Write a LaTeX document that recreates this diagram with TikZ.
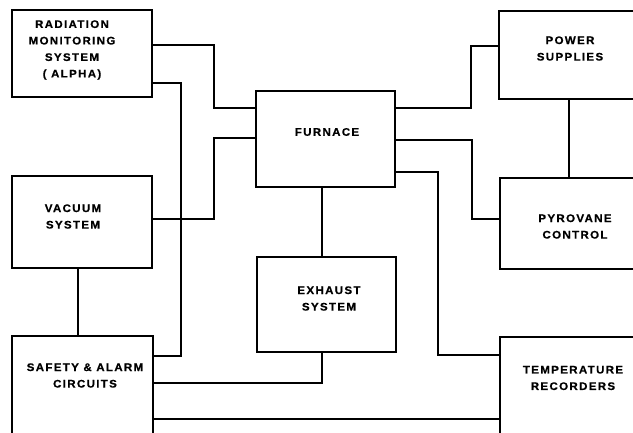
\documentclass[tikz,border=0pt]{standalone}
\usepackage{fontspec}
\setmainfont{Liberation Sans}
\newfontfamily\lblfont[LetterSpace=12,FakeStretch=1.05,FakeBold=0.6]{Liberation Sans Bold}
\begin{document}
\begin{tikzpicture}[x=1pt,y=-1pt,
  box/.style={draw,line width=1.7pt,inner sep=0pt},
  lbl/.style={align=center,inner sep=0pt,font=\lblfont\fontsize{11}{16.5}\selectfont},
  wire/.style={line width=1.5pt}]
\useasboundingbox (0,0) rectangle (633,432);
\clip (0,0) rectangle (633,432);
\node[box,minimum width=140pt,minimum height=87pt] (rad) at (82,53.5) {};
\node[box,minimum width=140pt,minimum height=92pt] (vac) at (82,222) {};
\node[box,minimum width=141pt,minimum height=124pt] (saf) at (82.5,398) {};
\node[box,minimum width=139pt,minimum height=96pt] (furn) at (325.5,139) {};
\node[box,minimum width=139pt,minimum height=95pt] (exh) at (326.5,304.5) {};
\node[box,minimum width=161pt,minimum height=88pt] (pow) at (579.5,55) {};
\node[box,minimum width=160pt,minimum height=91pt] (pyr) at (580,223.5) {};
\node[box,minimum width=160pt,minimum height=123pt] (temp) at (580,398.5) {};

\node[lbl] (radt) at (72,50) {RADIATION\\MONITORING\\SYSTEM\\( ALPHA)};
\node[lbl] (vact) at (73,216.5) {VACUUM\\SYSTEM};
\node[lbl] (saft) at (85,375.5) {SAFETY \& ALARM\\CIRCUITS};
\node[lbl] (furnt) at (327,132) {FURNACE};
\node[lbl] (exht) at (329,298.5) {EXHAUST\\SYSTEM};
\node[lbl] (powt) at (570,48.5) {POWER\\SUPPLIES};
\node[lbl] (pyrt) at (575,226.5) {PYROVANE\\CONTROL};
\node[lbl] (tempt) at (573,378) {TEMPERATURE\\RECORDERS};

\draw[wire] (rad.east |- 0,45) -| (214,108) -- (furn.west |- 0,108);
\draw[wire] (rad.east |- 0,83) -| (181,356) -- (saf.east |- 0,356);
\draw[wire] (vac.east |- 0,219) -| (214,138) -- (furn.west |- 0,138);
\draw[wire] (vac.south -| 78,0) -- (saf.north -| 78,0);
\draw[wire] (furn.east |- 0,108) -| (471,46) -- (pow.west |- 0,46);
\draw[wire] (furn.east |- 0,140) -| (472,219) -- (pyr.west |- 0,219);
\draw[wire] (furn.east |- 0,172) -| (438,355) -- (temp.west |- 0,355);
\draw[wire] (pow.south -| 569,0) -- (pyr.north -| 569,0);
\draw[wire] (furn.south -| 322,0) -- (exh.north -| 322,0);
\draw[wire] (exh.south -| 322,0) |- (saf.east |- 0,383);
\draw[wire] (saf.east |- 0,419) -- (temp.west |- 0,419);
\end{tikzpicture}
\end{document}
